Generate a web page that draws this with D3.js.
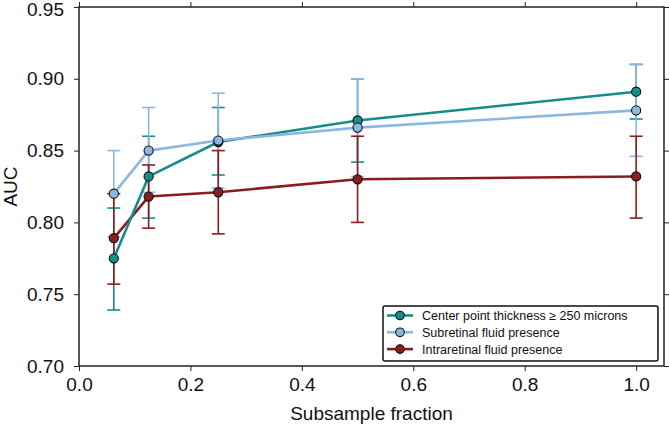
<!DOCTYPE html>
<html>
<head>
<meta charset="utf-8">
<script src="https://cdn.jsdelivr.net/npm/d3@7"></script>
<style>
  html, body { margin: 0; padding: 0; background: #fff; }
  svg { display: block; font-family: "Liberation Sans", Arial, Helvetica, sans-serif; }
</style>
</head>
<body>
<svg id="chart" width="669" height="426"></svg>
<script>
// ---- data ----
const fractions = [0.0625, 0.125, 0.25, 0.5, 1.0];
const seriesNames = ["Center point thickness \u2265 250 microns", "Subretinal fluid presence", "Intraretinal fluid presence"];
const seriesColors = ["#178c8c", "#8cb7e1", "#8c1d1d"];
const cptMean  = [0.775, 0.832, 0.856, 0.871, 0.891];
const cptLow   = [0.739, 0.803, 0.833, 0.842, 0.872];
const cptHigh  = [0.810, 0.860, 0.880, 0.900, 0.910];
const srfMean  = [0.820, 0.850, 0.857, 0.866, 0.878];
const srfLow   = [0.790, 0.821, 0.824, 0.832, 0.846];
const srfHigh  = [0.850, 0.880, 0.890, 0.900, 0.910];
const irfMean  = [0.789, 0.818, 0.821, 0.830, 0.832];
const irfLow   = [0.757, 0.796, 0.792, 0.800, 0.803];
const irfHigh  = [0.820, 0.840, 0.850, 0.860, 0.860];
const xTicks = [0.0, 0.2, 0.4, 0.6, 0.8, 1.0];
const yTicks = [0.70, 0.75, 0.80, 0.85, 0.90, 0.95];
const xTitle = "Subsample fraction";
const yTitle = "AUC";

const series = [
  {name: seriesNames[0], color: seriesColors[0], mean: cptMean, low: cptLow, high: cptHigh},
  {name: seriesNames[1], color: seriesColors[1], mean: srfMean, low: srfLow, high: srfHigh},
  {name: seriesNames[2], color: seriesColors[2], mean: irfMean, low: irfLow, high: irfHigh}
];

// ---- layout ----
const svg = d3.select("#chart");
const L = 79, R = 664, T = 7, B = 366;
const x = d3.scaleLinear().domain([0, 1.05]).range([L, R]);
const y = d3.scaleLinear().domain([0.70, 0.95]).range([B, T]);

const fontSize = 19;

// axes
const axB = svg.append("g").attr("transform", `translate(0,${B})`)
  .call(d3.axisBottom(x).tickValues(xTicks).tickFormat(d3.format(".1f")).tickSize(5).tickPadding(7));
const axT = svg.append("g").attr("transform", `translate(0,${T})`)
  .call(d3.axisTop(x).tickValues(xTicks).tickFormat("").tickSize(5));
const axL = svg.append("g").attr("transform", `translate(${L},0)`)
  .call(d3.axisLeft(y).tickValues(yTicks).tickFormat(d3.format(".2f")).tickSize(5).tickPadding(10));
const axR = svg.append("g").attr("transform", `translate(${R},0)`)
  .call(d3.axisRight(y).tickValues(yTicks).tickFormat("").tickSize(5));

[axB, axT, axL, axR].forEach(a => {
  a.select(".domain").remove();
  a.selectAll(".tick line").attr("stroke", "#222").attr("stroke-width", 1);
  a.selectAll(".tick text").attr("fill", "#111").style("font-size", fontSize + "px")
    .style("font-family", "'Liberation Sans', Arial, sans-serif");
});
// keep the top label inside the picture (as in the reference, it sits a little low)
axL.selectAll(".tick text").filter(d => Math.abs(d - 0.95) < 1e-9).attr("dy", "0.46em");

// frame
svg.append("rect").attr("x", L).attr("y", T).attr("width", R - L).attr("height", B - T)
  .attr("fill", "none").attr("stroke", "#222").attr("stroke-width", 1.5);

// titles
svg.append("text").attr("x", (L + R) / 2).attr("y", 420).attr("text-anchor", "middle")
  .style("font-size", fontSize + "px").attr("fill", "#111").text(xTitle);
svg.append("text").attr("transform", `translate(17,${y(0.825)}) rotate(-90)`).attr("text-anchor", "middle")
  .style("font-size", fontSize + "px").attr("fill", "#111").text(yTitle);

// error bars
const capHalf = 6.5;
const errG = svg.append("g");
series.forEach(s => {
  const g = errG.append("g");
  fractions.forEach((f, i) => {
    const cx = x(f);
    g.append("line").attr("x1", cx).attr("x2", cx).attr("y1", y(s.low[i])).attr("y2", y(s.high[i]))
      .attr("stroke", s.color).attr("stroke-width", 1.6);
    [s.low[i], s.high[i]].forEach(v => {
      g.append("line").attr("x1", cx - capHalf).attr("x2", cx + capHalf).attr("y1", y(v)).attr("y2", y(v))
        .attr("stroke", s.color).attr("stroke-width", 1.6);
    });
  });
});

// lines and markers (drawn red, teal, blue)
const line = d3.line().x(d => x(d[0])).y(d => y(d[1]));
[2, 0, 1].forEach(k => {
  const s = series[k];
  const pts = fractions.map((f, i) => [f, s.mean[i]]);
  svg.append("path").datum(pts).attr("d", line).attr("fill", "none")
    .attr("stroke", s.color).attr("stroke-width", 2.6).attr("stroke-linejoin", "round");
  svg.append("g").selectAll("circle").data(pts).join("circle")
    .attr("cx", d => x(d[0])).attr("cy", d => y(d[1])).attr("r", 4.6)
    .attr("fill", s.color).attr("stroke", "#111").attr("stroke-width", 1.1);
});

// legend
const lg = svg.append("g");
lg.append("rect").attr("x", 383).attr("y", 306).attr("width", 275).attr("height", 55).attr("rx", 2)
  .attr("fill", "#fff").attr("stroke", "#111").attr("stroke-width", 1.5);
series.forEach((s, i) => {
  const yy = 315.5 + i * 16.8;
  lg.append("line").attr("x1", 387).attr("x2", 413).attr("y1", yy).attr("y2", yy)
    .attr("stroke", s.color).attr("stroke-width", 2.6);
  lg.append("circle").attr("cx", 400).attr("cy", yy).attr("r", 4.3)
    .attr("fill", s.color).attr("stroke", "#111").attr("stroke-width", 1.1);
  lg.append("text").attr("x", 422).attr("y", yy + 4.5).style("font-size", "12.5px").attr("fill", "#111")
    .text(s.name);
});
</script>
</body>
</html>
